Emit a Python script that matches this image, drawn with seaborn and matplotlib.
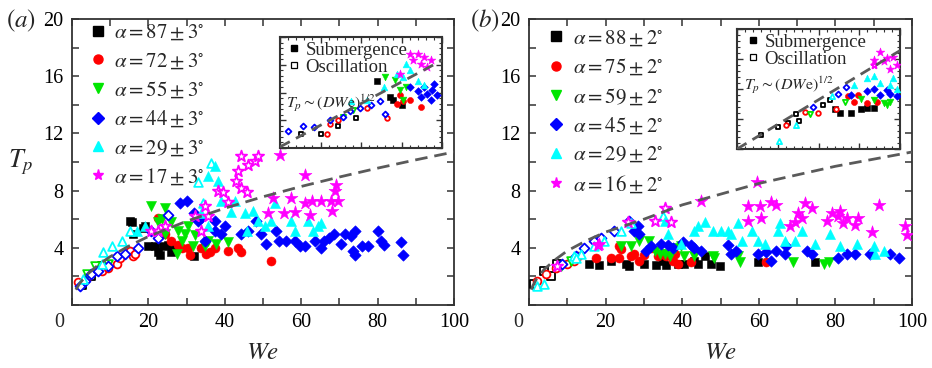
import matplotlib
matplotlib.use('Agg')
import matplotlib.pyplot as plt
import seaborn as sns
import pandas as pd
from matplotlib.lines import Line2D
from matplotlib.ticker import FixedLocator, MultipleLocator

sns.set_theme(style='ticks')
plt.rcParams['font.family'] = ['Liberation Serif', 'DejaVu Serif']
plt.rcParams['mathtext.fontset'] = 'stix'

# ------------------------------------------------------------------ panel (a)
a87_we = [15.2, 15.6, 16, 19, 20, 21.7, 22.6, 23.9, 25.2, 26, 26.9, 32, 18.6, 23]
a87_tp = [5.9, 5.8, 5.0, 5.5, 4.1, 4.1, 3.7, 4.1, 4.2, 3.7, 4.1, 3.4, 5.4, 3.5]
a87o_we = [2.5, 5.1, 7.8]
a87o_tp = [1.4, 2.0, 2.7]

a72_we = [22.6, 24.3, 26, 28.7, 30.4, 33.9, 36, 37.4, 40.8, 43.5, 44.3, 52.2, 22.6, 27.8, 35, 31]
a72_tp = [6.1, 5.0, 4.5, 4.0, 4.0, 4.0, 3.7, 4.0, 3.8, 4.0, 3.7, 3.1, 4.8, 4.2, 3.6, 3.5]
a72o_we = [1.7, 4.3, 7.8, 11.7, 15.2, 16, 16.5, 12.5, 9.5]
a72o_tp = [1.6, 2.0, 2.4, 2.9, 3.8, 3.4, 3.6, 3.3, 2.6]

a55_we = [20.8, 24.3, 22.6, 26, 27.8, 29.5, 30.4, 32.1, 28.7, 31.7, 35.6, 34.8, 40.9, 37.8, 24.3, 27.4, 23.5]
a55_tp = [6.9, 6.8, 5.8, 5.8, 5.2, 5.0, 5.5, 4.9, 4.5, 4.1, 4.5, 4.1, 4.4, 4.3, 5.0, 3.6, 6.0]
a55o_we = [6, 9.5, 4]
a55o_tp = [2.7, 2.9, 2.2]

a44_we = [28.2, 30, 32, 33, 33.9, 37.4, 34.8, 37.4, 39.1, 40, 44.3, 46, 48.2, 49.5, 50.9, 53.5,
          54.3, 56, 58.3, 59.6, 61, 63.5, 65.3, 66, 67.4, 68.7, 70.5, 73, 74, 73.5, 74, 76, 77.4,
          80, 80.9, 81.8, 86, 86.6, 71.4]
a44_tp = [7.1, 7.3, 6.4, 5.9, 6.1, 5.9, 4.5, 5.2, 5.0, 5.5, 5.0, 5.2, 5.9, 5.0, 4.3, 5.2,
          4.5, 4.5, 4.5, 4.1, 4.1, 4.5, 4.0, 4.5, 4.7, 5.0, 4.3, 4.8, 5.2, 3.8, 3.5, 4.1, 4.1,
          5.2, 4.5, 4.2, 4.4, 3.5, 5.0]
a44o_we = [2.1, 3.4, 5.1, 6.9, 9.5, 11.7, 13.9, 17.3, 22.6, 25.2, 20.8]
a44o_tp = [1.3, 1.7, 2.2, 2.4, 2.7, 3.4, 3.6, 4.0, 4.7, 6.3, 5.2]

a29_we = [35.6, 37.4, 38.3, 39.1, 41.7, 45.3, 47.4, 42.6, 48.7, 50.4, 52.2, 53.1, 57.4, 58.3,
          61.8, 63.1, 64.4, 65.3, 45.7, 35.6, 33.9, 17, 19]
a29_tp = [9.0, 9.7, 8.7, 7.3, 6.5, 6.4, 6.6, 7.3, 5.9, 5.5, 5.9, 7.1, 5.9, 5.2,
          5.9, 5.2, 5.5, 5.7, 5.2, 5.5, 6.4, 5.2, 5.5]
a29o_we = [33, 36.5, 34.3, 7.8, 8, 10.4, 13, 15.2, 3]
a29o_tp = [8.6, 9.9, 7.1, 2.9, 3.7, 4.1, 4.5, 5.2, 1.8]

a17_we = [54.4, 60.9, 60.9, 58.3, 55.6, 57.4, 62.7, 65.3, 67.9, 68.8, 69.2, 68, 69.6, 52.5, 51.3, 62.2]
a17_tp = [10.5, 9.1, 7.1, 6.5, 6.4, 7.5, 7.3, 7.3, 7.3, 8.0, 8.4, 6.6, 7.3, 7.5, 6.4, 6.3]
a17o_we = [44.3, 46, 47.9, 48.7, 43.5, 43, 44.3, 45.7, 38.2, 39.5, 40.8, 34.8, 35.6, 33.9, 20.8, 22.6, 24.3, 32.1]
a17o_tp = [10.4, 9.8, 10.1, 10.4, 9.4, 8.7, 8.2, 7.9, 8.0, 7.9, 7.2, 6.9, 6.2, 5.2, 5.2, 5.2, 5.5, 6.2]

a_line_we = [1, 2, 4, 7, 10, 15, 20, 30, 40, 50, 60, 70, 80, 90, 100]
a_line_tp = [1.07, 1.51, 2.14, 2.83, 3.38, 4.14, 4.79, 5.86, 6.77, 7.57, 8.29, 8.95, 9.57, 10.15, 10.7]

# ------------------------------------------------------------------ panel (b)
b88_we = [15.7, 18.3, 21.4, 25.3, 26.2, 30.1, 33.2, 35.8, 38.9, 40.6, 44.1, 45.9, 47.6, 49.8, 59.8, 74.7, 35, 43.2]
b88_tp = [2.9, 2.8, 3.1, 2.9, 2.7, 2.9, 2.8, 2.8, 2.9, 2.9, 2.9, 3.4, 2.9, 2.7, 3.0, 3.0, 3.1, 3.1]
b88o_we = [1.3, 3.9, 5.7, 7.4]
b88o_tp = [1.5, 2.4, 2.0, 2.9]

b75_we = [12.7, 17.5, 21.4, 23.6, 23.6, 24, 26.6, 27.5, 28.8, 30.1, 31.9, 33.6, 35.8, 37.6, 38.9, 42.4, 62, 38]
b75_tp = [3.4, 3.3, 3.3, 3.3, 4.1, 3.9, 3.4, 3.6, 3.1, 3.5, 4.0, 3.4, 3.4, 3.1, 2.9, 3.0, 3.0, 3.6]
b75o_we = [2.2, 4.4, 7, 10, 11.8]
b75o_tp = [1.7, 2.2, 2.6, 2.9, 3.1]

b59_we = [26.6, 28.8, 31.4, 32.8, 34.1, 35.4, 36.7, 38, 39.7, 40.6, 43.2, 48, 48.4, 54.6, 55, 69, 76.9, 78.2, 24]
b59_tp = [4.1, 4.5, 4.5, 3.8, 3.6, 3.6, 3.4, 4.0, 4.1, 3.4, 3.4, 3.4, 3.3, 3.4, 3.0, 3.0, 2.9, 3.0, 4.1]
b59o_we = [8.3, 10.9]
b59o_tp = [2.7, 3.1]

b45_we = [27.5, 28.4, 28.8, 31.9, 34.5, 36.2, 37.6, 40.2, 42.4, 43.2, 45, 52, 52.8, 54.1, 59.8, 62,
          64.6, 66.8, 72.5, 73.8, 80.8, 83, 85.2, 89.1, 94.3, 96.5, 63.3, 67.2, 30.6]
b45_tp = [5.2, 5.5, 5.0, 4.1, 4.3, 4.2, 4.0, 4.4, 4.2, 4.0, 3.8, 4.2, 3.6, 3.8, 3.6, 3.7,
          3.8, 3.6, 3.8, 3.6, 3.3, 3.6, 3.6, 3.6, 3.6, 3.3, 3.1, 4.1, 3.8]
b45o_we = [8.7, 12.2, 14.4, 17, 18.8, 22.3, 26.2]
b45o_tp = [2.9, 3.4, 4.0, 4.5, 4.7, 5.2, 5.9]

b29_we = [35.4, 36.2, 39.7, 43.2, 44.1, 45.9, 48, 50.2, 51.9, 52.8, 54.6, 55.5, 58.1, 59.8, 65.1,
          65.5, 66.8, 69.4, 71.2, 74.7, 78.6, 81.2, 85.6, 90, 92.6, 90.4, 61.6]
b29_tp = [5.9, 5.0, 4.3, 5.2, 5.5, 5.8, 5.2, 5.2, 5.2, 5.0, 5.7, 4.5, 5.2, 4.5, 5.2,
          5.7, 4.5, 4.5, 5.2, 4.3, 5.0, 4.1, 4.3, 4.1, 3.8, 3.6, 4.3]
b29o_we = [2.2, 3.9, 11.8, 13.5, 17, 19.7, 24, 26.6, 12.2, 35]
b29o_tp = [1.3, 1.5, 3.4, 3.6, 4.1, 4.5, 5.2, 5.7, 3.3, 6.2]

b16_we = [18.3, 45, 57.2, 57.2, 60.3, 60.7, 63.3, 64.6, 59.4, 68.1, 69.4, 70.3, 71.2, 72.1, 73.8,
          77.7, 79, 80.8, 81.2, 82.1, 83, 85.2, 86, 91.3, 89.5, 98.3, 98.7]
b16_tp = [4.3, 7.3, 6.9, 5.9, 6.9, 6.1, 7.2, 7.0, 8.6, 5.5, 5.8, 6.4, 6.1, 7.1, 6.8,
          5.9, 6.4, 6.2, 6.6, 5.7, 6.1, 5.6, 6.1, 7.0, 5.1, 5.5, 4.9]
b16o_we = [35.4, 32.8, 37.1, 25.8, 17.9, 7.4]
b16o_tp = [6.8, 5.9, 5.8, 5.8, 4.2, 2.7]

b_line_we = [0.6, 1, 2, 4, 7, 10, 15, 20, 30, 40, 50, 60, 70, 80, 90, 100]
b_line_tp = [1.07, 1.35, 1.84, 2.5, 3.2, 3.79, 4.5, 5.1, 6.0, 7.0, 7.75, 8.5, 9.1, 9.7, 10.2, 10.7]

# ------------------------------------------------------------------ insets (unitless, log-log)
ia_k_u = [.6, .68, .7, .75];          ia_k_v = [.6, .46, .43, .39]
ia_ko_u = [.13, .25, .36, .47];       ia_ko_v = [.13, .13, .2, .27]
ia_r_u = [.72, .76, .8, .87, .74];    ia_r_v = [.4, .42, .43, .37, .48]
ia_ro_u = [.29, .31, .36, .54, .66];  ia_ro_v = [.13, .22, .25, .36, .27]
ia_g_u = [.65, .74, .78, .71, .76];   ia_g_v = [.64, .52, .55, .61, .43]
ia_go_u = [.39, .45];                 ia_go_v = [.28, .34]
ia_b_u = [.85, .91, .94, .93, .89, .97, .87, .8, .95]
ia_b_v = [.51, .49, .52, .43, .55, .48, .46, .55, .58]
ia_bo_u = [.05, .14, .21, .31, .39, .43, .495, .56, .62, .65]
ia_bo_v = [.15, .2, .19, .25, .28, .33, .36, .39, .42, .31]
ia_c_u = [.78, .72, .76, .85, .89, .8, .64, .54, .44]
ia_c_v = [.76, .67, .64, .6, .57, .7, .55, .43, .42]
ia_m_u = [.8, .85, .89, .91, .82, .87, .93, .74]
ia_m_v = [.85, .85, .82, .73, .79, .76, .79, .67]
ia_line_u = [0, 1]
ia_line_v = [0.01, 0.79]

ib_k_u = [.63, .7, .76, .8, .84, .6];      ib_k_v = [.3, .3, .33, .34, .34, .33]
ib_ko_u = [.15, .25, .31, .36, .38, .53, .57]
ib_ko_v = [.12, .18, .22, .29, .23, .37, .41]
ib_r_u = [.68, .72, .8, .86, .74];         ib_r_v = [.44, .39, .38, .39, .45]
ib_ro_u = [.3, .42, .495, .61];            ib_ro_v = [.2, .31, .3, .33]
ib_g_u = [.76, .84, .9, .94, .92];         ib_g_v = [.42, .41, .38, .39, .37]
ib_go_u = [.45, .66];                      ib_go_v = [.29, .39]
ib_b_u = [.7, .8, .88, .94, .98, .84, .92]; ib_b_v = [.45, .48, .45, .46, .44, .5, .49]
ib_bo_u = [.465, .67, .62];                ib_bo_v = [.35, .52, .46]
ib_c_u = [.72, .8, .88, .94, .98, .84, .96]; ib_c_v = [.53, .59, .55, .53, .5, .61, .59]
ib_co_u = [.26, .36, .58];                 ib_co_v = [.07, .2, .44]
ib_m_u = [.88, .92, .96, .98, .94, .9, .84]; ib_m_v = [.81, .76, .77, .7, .67, .73, .74]
ib_mo_u = [.84];                           ib_mo_v = [.7]
ib_line_u = [0, 1]
ib_line_v = [0.0, 0.82]

# ------------------------------------------------------------------ styling
BLACK, RED, GREEN, BLUE, CYAN, MAGENTA = '#000000', '#ff0000', '#00e600', '#0000ff', '#00ffff', '#ff00ff'
SIZES = {'s': 36, 'o': 42, 'v': 52, 'D': 34, '^': 52, '*': 95}

SERIES_A = [
    (r'$\alpha = 87 \pm 3^{\circ}$', BLACK, 's', a87_we, a87_tp, a87o_we, a87o_tp),
    (r'$\alpha = 72 \pm 3^{\circ}$', RED, 'o', a72_we, a72_tp, a72o_we, a72o_tp),
    (r'$\alpha = 55 \pm 3^{\circ}$', GREEN, 'v', a55_we, a55_tp, a55o_we, a55o_tp),
    (r'$\alpha = 44 \pm 3^{\circ}$', BLUE, 'D', a44_we, a44_tp, a44o_we, a44o_tp),
    (r'$\alpha = 29 \pm 3^{\circ}$', CYAN, '^', a29_we, a29_tp, a29o_we, a29o_tp),
    (r'$\alpha = 17 \pm 3^{\circ}$', MAGENTA, '*', a17_we, a17_tp, a17o_we, a17o_tp),
]
SERIES_B = [
    (r'$\alpha = 88 \pm 2^{\circ}$', BLACK, 's', b88_we, b88_tp, b88o_we, b88o_tp),
    (r'$\alpha = 75 \pm 2^{\circ}$', RED, 'o', b75_we, b75_tp, b75o_we, b75o_tp),
    (r'$\alpha = 59 \pm 2^{\circ}$', GREEN, 'v', b59_we, b59_tp, b59o_we, b59o_tp),
    (r'$\alpha = 45 \pm 2^{\circ}$', BLUE, 'D', b45_we, b45_tp, b45o_we, b45o_tp),
    (r'$\alpha = 29 \pm 2^{\circ}$', CYAN, '^', b29_we, b29_tp, b29o_we, b29o_tp),
    (r'$\alpha = 16 \pm 2^{\circ}$', MAGENTA, '*', b16_we, b16_tp, b16o_we, b16o_tp),
]
INSET_A = [
    (BLACK, 's', ia_k_u, ia_k_v, ia_ko_u, ia_ko_v),
    (RED, 'o', ia_r_u, ia_r_v, ia_ro_u, ia_ro_v),
    (GREEN, 'v', ia_g_u, ia_g_v, ia_go_u, ia_go_v),
    (BLUE, 'D', ia_b_u, ia_b_v, ia_bo_u, ia_bo_v),
    (CYAN, '^', ia_c_u, ia_c_v, [], []),
    (MAGENTA, '*', ia_m_u, ia_m_v, [], []),
]
INSET_B = [
    (BLACK, 's', ib_k_u, ib_k_v, ib_ko_u, ib_ko_v),
    (RED, 'o', ib_r_u, ib_r_v, ib_ro_u, ib_ro_v),
    (GREEN, 'v', ib_g_u, ib_g_v, ib_go_u, ib_go_v),
    (BLUE, 'D', ib_b_u, ib_b_v, ib_bo_u, ib_bo_v),
    (CYAN, '^', ib_c_u, ib_c_v, ib_co_u, ib_co_v),
    (MAGENTA, '*', ib_m_u, ib_m_v, ib_mo_u, ib_mo_v),
]

SPINE = '#333333'
LINEC = '#5a5a5a'


def scatter(ax, x, y, color, marker, size, hollow):
    if len(x) == 0:
        return
    df = pd.DataFrame({'x': x, 'y': y})
    if hollow:
        sns.scatterplot(data=df, x='x', y='y', ax=ax, marker=marker, s=size * 0.75,
                        color='white', edgecolor=color, linewidth=1.3, legend=False, zorder=3)
    else:
        sns.scatterplot(data=df, x='x', y='y', ax=ax, marker=marker, s=size,
                        color=color, edgecolor=color, linewidth=0.4, legend=False, zorder=3)


def main_panel(ax, series, lwe, ltp, leg_anchor, zero_x):
    for lab, c, m, fx, fy, hx, hy in series:
        scatter(ax, hx, hy, c, m, SIZES[m], True)
        scatter(ax, fx, fy, c, m, SIZES[m], False)
    sns.lineplot(x=lwe, y=ltp, ax=ax, color=LINEC, linewidth=2.0, zorder=4, sort=False)
    ax.lines[-1].set_dashes([4.5, 2.5])
    ax.set_xlim(0, 100)
    ax.set_ylim(0, 20)
    xt = list(range(0, 101, 10))
    yt = list(range(0, 21, 2))
    ax.xaxis.set_major_locator(FixedLocator(xt))
    ax.yaxis.set_major_locator(FixedLocator(yt))
    ax.set_xticklabels(['' if (v % 20 or v == 0) else str(v) for v in xt])
    ax.set_yticklabels(['' if (v % 4 or v == 0) else str(v) for v in yt])
    ax.tick_params(direction='in', top=True, right=True, length=5, width=1.1,
                   color=SPINE, labelsize=14.5, pad=6, labelcolor='black')
    for sp in ax.spines.values():
        sp.set_linewidth(1.3)
        sp.set_color(SPINE)
    ax.set_xlabel(r'$We$', fontsize=18, va='center')
    ax.xaxis.set_label_coords(0.5, -0.168)
    ax.text(zero_x, -0.06, '0', transform=ax.transAxes, fontsize=14.5, ha='center', va='center')
    handles = [Line2D([], [], marker=m, color=c, markeredgecolor=c, linestyle='none',
                      markersize=(8 if m == '*' else 6.5), label=lab)
               for lab, c, m, *_ in series]
    ax.legend(handles=handles, loc='upper left', bbox_to_anchor=leg_anchor, frameon=False,
              fontsize=15, handlelength=0.8, handletextpad=0.4, labelspacing=0.42,
              borderaxespad=0, borderpad=0)


def inset_panel(ax, series, lu, lv, formula_y, leg_x):
    for c, m, fx, fy, hx, hy in series:
        scatter(ax, hx, hy, c, m, SIZES[m] * 0.35, True)
        scatter(ax, fx, fy, c, m, SIZES[m] * 0.45, False)
    sns.lineplot(x=lu, y=lv, ax=ax, color=LINEC, linewidth=2.0, zorder=4, sort=False)
    ax.lines[-1].set_dashes([4, 2.5])
    ax.set_xlim(0, 1)
    ax.set_ylim(0, 1)
    ax.set_xlabel('')
    ax.set_ylabel('')
    ax.xaxis.set_major_locator(MultipleLocator(0.25))
    ax.yaxis.set_major_locator(MultipleLocator(0.25))
    ax.xaxis.set_minor_locator(MultipleLocator(0.05))
    ax.yaxis.set_minor_locator(MultipleLocator(0.05))
    ax.tick_params(which='both', direction='in', top=True, right=True, labelbottom=False,
                   labelleft=False, color=SPINE)
    ax.tick_params(which='major', length=4, width=1)
    ax.tick_params(which='minor', length=2, width=0.8)
    for sp in ax.spines.values():
        sp.set_linewidth(1.5)
        sp.set_color(SPINE)
    h = [Line2D([], [], marker='s', color='black', linestyle='none', markersize=4, label='Submergence'),
         Line2D([], [], marker='s', color='black', markerfacecolor='white', markeredgewidth=0.9,
                linestyle='none', markersize=4, label='Oscillation')]
    ax.legend(handles=h, loc='upper left', bbox_to_anchor=(leg_x, 0.96), frameon=False,
              fontsize=13.5, handlelength=0.5, handletextpad=0.35, labelspacing=0.0,
              borderaxespad=0, borderpad=0)
    ax.text(0.04, formula_y, r'$T_p \sim (DW\mathrm{e})^{1/2}$', transform=ax.transAxes,
            fontsize=11.5, ha='left', va='center')


fig = plt.figure(figsize=(9.32, 3.68), dpi=100)
W, H = 932.0, 368.0
ax_a = fig.add_axes([72 / W, 1 - 305 / H, 382 / W, 286 / H])
ax_b = fig.add_axes([529 / W, 1 - 305 / H, 383 / W, 286 / H])

main_panel(ax_a, SERIES_A, a_line_we, a_line_tp, (0.045, 0.985), -0.034)
main_panel(ax_b, SERIES_B, b_line_we, b_line_tp, (0.05, 0.965), -0.028)
ax_a.set_ylabel(r'$T_p$', fontsize=19, rotation=0, ha='center', va='center')
ax_a.yaxis.set_label_coords(-0.135, 0.5)
ax_b.set_ylabel('')

fig.text(6 / W, 1 - 21 / H, r'$(a)$', fontsize=18, ha='left', va='center')
fig.text(470 / W, 1 - 21 / H, r'$(b)$', fontsize=18, ha='left', va='center')

in_a = fig.add_axes([280 / W, 1 - 148 / H, 162 / W, 111 / H])
in_b = fig.add_axes([737 / W, 1 - 149 / H, 163 / W, 120 / H])
inset_panel(in_a, INSET_A, ia_line_u, ia_line_v, 0.40, 0.06)
inset_panel(in_b, INSET_B, ib_line_u, ib_line_v, 0.53, 0.07)

fig.savefig('out.png', dpi=100)
